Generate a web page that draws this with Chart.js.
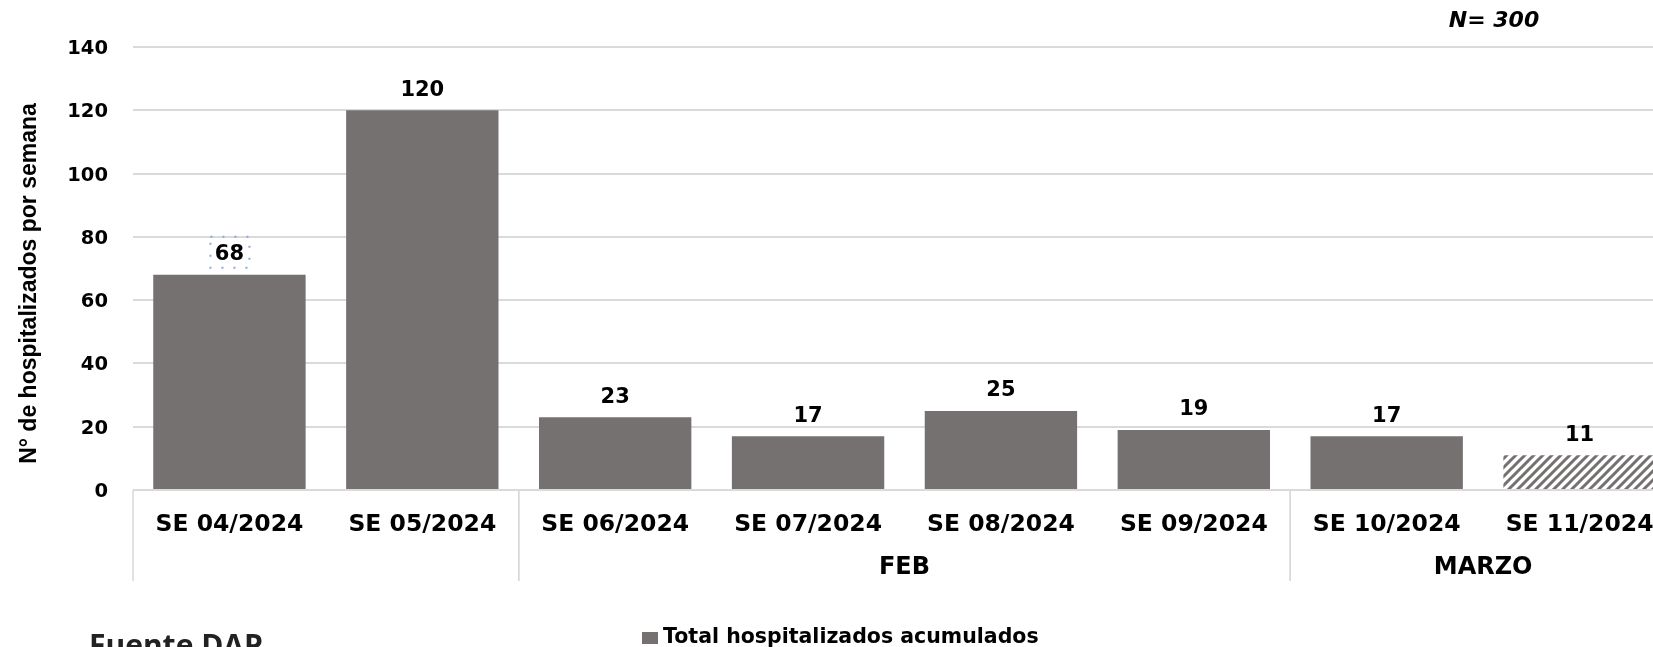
<!DOCTYPE html>
<html>
<head>
<meta charset="utf-8">
<script src="https://cdn.jsdelivr.net/npm/chart.js@4.4.1/dist/chart.umd.min.js"></script>
<style>
  html, body { margin: 0; padding: 0; background: #fff; overflow: hidden; }
  #wrap { position: relative; width: 1700px; height: 647px; }
</style>
</head>
<body>
<div id="wrap"><canvas id="hospChart"></canvas></div>
<script>
// semanas epidemiologicas
var weeks = ['SE 04/2024', 'SE 05/2024', 'SE 06/2024', 'SE 07/2024',
             'SE 08/2024', 'SE 09/2024', 'SE 10/2024', 'SE 11/2024'];
var hospitalized = [68, 120, 23, 17, 25, 19, 17, 11];
// meses agrupando las semanas
var months = ['', 'FEB', 'MARZO'];
var monthSpans = [2, 4, 2];
var yMax = 140;
var yStep = 20;
var seriesName = 'Total hospitalizados acumulados';
var yTitle = 'N° de hospitalizados por semana';
var totalLabel = 'N= 300';
var sourceLabel = 'Fuente DAP';
var partialWeek = 7;   // semana incompleta (rayada)

var barColor = '#767171';

function makeHatch() {
    var c = document.createElement('canvas');
    c.width = 9; c.height = 9;
    var p = c.getContext('2d');
    p.fillStyle = '#fff';
    p.fillRect(0, 0, 9, 9);
    p.strokeStyle = barColor;
    p.lineWidth = 3;
    p.beginPath();
    p.moveTo(-1, 10); p.lineTo(10, -1);
    p.moveTo(-5, 5); p.lineTo(5, -5);
    p.moveTo(4, 14); p.lineTo(14, 4);
    p.stroke();
    return c.getContext('2d').createPattern(c, 'repeat');
}

var hatch = makeHatch();
var colors = hospitalized.map(function(v, i) {
    return i === partialWeek ? hatch : barColor;
});

var extras = {
    id: 'extras',
    afterDatasetsDraw: function(chart) {
        var ctx = chart.ctx;
        var area = chart.chartArea;
        var xs = chart.scales.x;
        var meta = chart.getDatasetMeta(0);
        ctx.save();

        // valores sobre las barras
        ctx.fillStyle = '#000';
        ctx.font = 'bold 21px "DejaVu Sans"';
        ctx.textAlign = 'center';
        ctx.textBaseline = 'middle';
        meta.data.forEach(function(bar, i) {
            ctx.fillText(hospitalized[i], bar.x, bar.y - 20);
        });

        // recuadro punteado del primer rotulo
        var b0 = meta.data[0];
        ctx.strokeStyle = '#8aa6da';
        ctx.lineWidth = 2;
        ctx.setLineDash([2, 10]);
        ctx.strokeRect(b0.x - 19, b0.y - 38, 39, 31);
        ctx.setLineDash([]);

        // separadores y nombres de mes
        var catW = (xs.right - xs.left) / weeks.length;
        var start = 0;
        ctx.strokeStyle = '#d9d9d9';
        ctx.lineWidth = 1.5;
        ctx.font = 'bold 24px "DejaVu Sans"';
        months.forEach(function(m, g) {
            var x0 = xs.getPixelForValue(start) - catW / 2;
            var x1 = x0 + monthSpans[g] * catW;
            [x0, x1].forEach(function(xx) {
                ctx.beginPath();
                ctx.moveTo(xx, area.bottom);
                ctx.lineTo(xx, area.bottom + 91);
                ctx.stroke();
            });
            ctx.fillText(m, (x0 + x1) / 2, area.bottom + 78);
            start += monthSpans[g];
        });

        // titulo del eje y
        ctx.save();
        ctx.translate(30, (area.top + area.bottom) / 2 + 15);
        ctx.rotate(-Math.PI / 2);
        ctx.font = 'bold 23px "Liberation Sans"';
        ctx.fillText(yTitle, 0, 0);
        ctx.restore();

        // N total
        ctx.font = 'italic bold 22px "DejaVu Sans"';
        ctx.fillText(totalLabel, 1494, 21);

        // leyenda
        var ds = chart.data.datasets[0];
        ctx.fillStyle = barColor;
        ctx.fillRect(642, 632, 16, 12);
        ctx.fillStyle = '#000';
        ctx.textAlign = 'left';
        ctx.font = 'bold 20.5px "DejaVu Sans"';
        ctx.fillText(ds.label, 663, 638);

        // fuente (cortada por el borde)
        ctx.fillStyle = '#222';
        ctx.font = 'bold 30px "Open Sans"';
        ctx.textBaseline = 'alphabetic';
        ctx.fillText(sourceLabel, 89, 656);

        ctx.restore();
    }
};

var ctx = document.getElementById('hospChart').getContext('2d');
var hospChart = new Chart(ctx, {
    type: 'bar',
    data: {
        labels: weeks,
        datasets: [{
            label: seriesName,
            data: hospitalized,
            backgroundColor: colors,
            borderWidth: 0,
            barPercentage: 0.79,
            categoryPercentage: 1
        }]
    },
    options: {
        responsive: true,
        maintainAspectRatio: false,
        animation: false,
        layout: { padding: { top: 47, right: 24, left: 0, bottom: 0 } },
        plugins: {
            legend: { display: false },
            tooltip: { enabled: false }
        },
        scales: {
            x: {
                grid: { display: false },
                border: { display: false },
                ticks: {
                    color: '#000',
                    font: { family: 'DejaVu Sans', weight: 'bold', size: 23.5 },
                    padding: 13,
                    maxRotation: 0,
                    autoSkip: false
                },
                afterFit: function(s) { s.height = 157; }
            },
            y: {
                min: 0,
                max: yMax,
                ticks: {
                    stepSize: yStep,
                    color: '#000',
                    font: { family: 'DejaVu Sans', weight: 'bold', size: 19.5 },
                    padding: 25,
                    labelOffset: 2
                },
                grid: { color: '#dadada', lineWidth: 2, drawTicks: false },
                border: { display: false },
                afterFit: function(s) { s.width = 133; }
            }
        }
    },
    plugins: [extras]
});
</script>
</body>
</html>
